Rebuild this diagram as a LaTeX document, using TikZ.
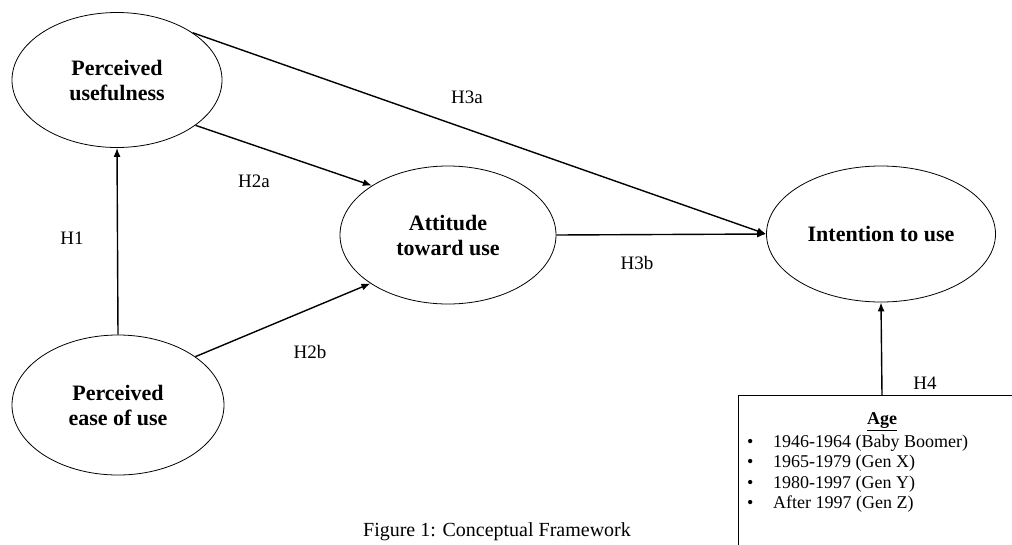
\documentclass[tikz,border=0pt]{standalone}
\usepackage{fontspec}
\setmainfont{Liberation Serif}
\usetikzlibrary{shapes.geometric,arrows.meta}
\begin{document}
\begin{tikzpicture}[x=1pt,y=-1pt,
  construct/.style={ellipse,draw,line width=0.8pt,inner sep=0pt,align=center,
    font=\fontsize{22}{25}\selectfont\bfseries},
  path/.style={line width=1.4pt,-{Latex[length=9pt,width=7pt]}},
  hyp/.style={font=\fontsize{19}{22}\selectfont},
  item/.style={anchor=base west,inner sep=0pt,font=\fontsize{18}{20}\selectfont}]
\useasboundingbox (0,0) rectangle (1012,544);
\clip (0,0) rectangle (1012,544);

% constructs
\node[construct,minimum width=210pt,minimum height=135pt] (pu) at (117,80) {Perceived\\usefulness};
\node[construct,minimum width=212pt,minimum height=140pt] (peou) at (118,405) {Perceived\\ease of use};
\node[construct,minimum width=216pt,minimum height=138pt] (atu) at (448,235) {Attitude\\toward use};
\node[construct,minimum width=229pt,minimum height=136pt] (itu) at (881,234) {Intention to use};

% moderator box
\draw[line width=0.8pt] (738,395) rectangle (1020,550);
\coordinate (age) at (882,395);
\node[font=\fontsize{18}{20}\selectfont\bfseries,inner sep=0pt] (agetitle) at (882,422) {\underline{Age}};
\foreach \y/\t [count=\i] in {447/1946-1964 (Baby Boomer),467/1965-1979 (Gen X),488/1980-1997 (Gen Y),508/After 1997 (Gen Z)}{
  \node[item] (b\i) at (747,\y) {\textbullet};
  \node[item] (t\i) at (773,\y) {\t};
}

% hypothesised paths
\draw[path] (peou.north) -- (pu.south);
\draw[path] (pu.-30) -- (atu.147);
\draw[path] (peou.32) -- (atu.-148);
\draw[path] (pu.32) -- (itu.west);
\draw[path] (atu.east) -- (itu.west);
\draw[path] (age) -- (itu.south);

% path labels
\node[hyp] (h1) at (72,238) {H1};
\node[hyp] (h2a) at (254,181) {H2a};
\node[hyp] (h2b) at (310,352) {H2b};
\node[hyp] (h3a) at (467,97) {H3a};
\node[hyp] (h3b) at (637,263) {H3b};
\node[hyp] (h4) at (925,383) {H4};

% caption
\node[font=\fontsize{20}{22}\selectfont] (cap) at (497,532) {Figure 1: Conceptual Framework};
\end{tikzpicture}
\end{document}
